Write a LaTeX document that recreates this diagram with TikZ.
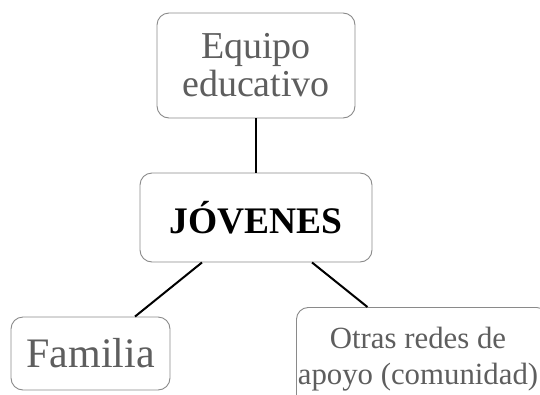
\documentclass[tikz,border=0pt]{standalone}
\usepackage{fontspec}
\setmainfont{Liberation Serif}
\usepackage{tikz}
\usetikzlibrary{positioning}
\definecolor{boxline}{HTML}{8A8A8A}
\definecolor{boxtext}{HTML}{5E5E5E}
\tikzstyle{block} = [rectangle,draw=boxline,line width=0.9pt,rounded corners=12pt,fill=white,align=center,inner sep=0pt]
\tikzstyle{link} = [draw,black,line width=2pt]

\begin{document}
\begin{tikzpicture}[x=1pt,y=-1pt]
    % fixed frame of the picture
    \clip (0,0) rectangle (540,394);
    % We start by placing the blocks
    \node [block, minimum width=198pt, minimum height=105pt, text=boxtext, font=\fontsize{38}{38}\selectfont] (equipo) at (256,65.5) {Equipo\\educativo};
    \node [block, minimum width=232pt, minimum height=89pt, font=\fontsize{37.5}{36}\selectfont\bfseries] (jov) at (256,217.5) {JÓVENES};
    \node [block, minimum width=159pt, minimum height=73pt, text=boxtext, font=\fontsize{42}{36}\selectfont] (fam) at (90.5,353.5) {Familia};
    \node [block, minimum width=252pt, minimum height=100pt, text=boxtext, anchor=north west] (otras) at (296,307) {};
    \node [text=boxtext, font=\fontsize{30.8}{36}\selectfont, align=center, inner sep=0pt] (otrastxt) at (418,359) {Otras redes de\\apoyo (comunidad)};

    % Once the nodes are placed, connecting them is easy.
    \draw [link] (equipo) -- (jov);
    \draw [link] ([xshift=-54pt]jov.south) -- ([xshift=44.5pt]fam.north);
    \draw [link] ([xshift=56pt]jov.south) -- ([xshift=-55pt]otras.north);
\end{tikzpicture}
\end{document}
